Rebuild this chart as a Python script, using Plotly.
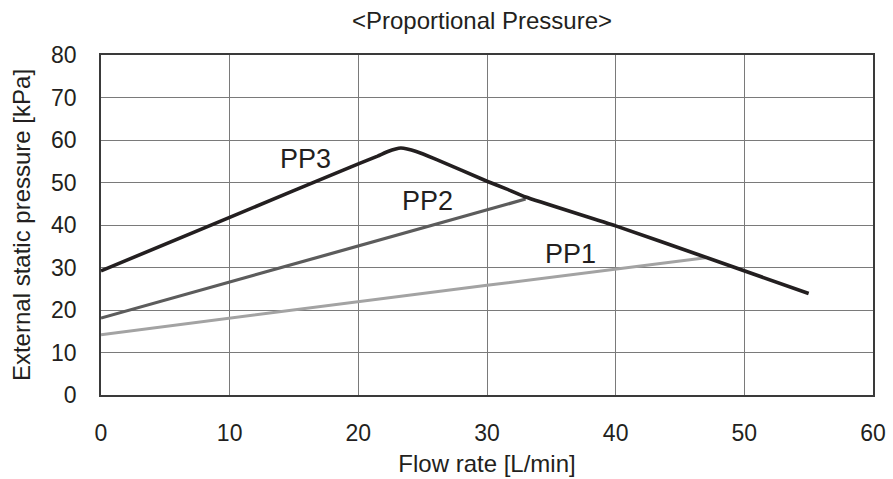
import plotly.graph_objects as go

# Proportional pressure curves: flow rate [L/min] vs external static pressure [kPa]
pp3_flow = [0, 10, 20, 21.5, 22.3, 22.9, 23.3, 23.8, 24.5, 26, 30, 31.5, 33, 40, 47, 55]
pp3_pressure = [29.2, 41.8, 54.4, 56.2, 57.3, 57.9, 58.1, 57.9, 57.3, 55.5, 50.3, 48.5, 46.6, 39.8, 32.4, 23.9]

pp2_flow = [0, 11.5, 20, 33]
pp2_pressure = [18.1, 27.9, 35.1, 46.1]

pp1_flow = [0, 11.5, 20, 30, 47]
pp1_pressure = [14.2, 18.7, 22.0, 25.8, 32.3]

curve_labels = ["PP3", "PP2", "PP1"]
label_flow = [15.9, 25.35, 36.5]
label_pressure = [55.6, 45.6, 33.2]

x_ticks = [0, 10, 20, 30, 40, 50, 60]
y_ticks = [0, 10, 20, 30, 40, 50, 60, 70, 80]

FONT = "Liberation Sans, Arial, sans-serif"

fig = go.Figure()
fig.add_trace(go.Scatter(x=pp1_flow, y=pp1_pressure, mode="lines",
                         line=dict(color="#a3a3a3", width=3), name="PP1"))
fig.add_trace(go.Scatter(x=pp2_flow, y=pp2_pressure, mode="lines",
                         line=dict(color="#5c5c5c", width=3.2), name="PP2"))
fig.add_trace(go.Scatter(x=pp3_flow, y=pp3_pressure, mode="lines",
                         line=dict(color="#231f20", width=3.6, shape="spline", smoothing=0.4),
                         name="PP3"))

for txt, lx, ly in zip(curve_labels, label_flow, label_pressure):
    fig.add_annotation(x=lx, y=ly, text=txt, showarrow=False,
                       font=dict(family=FONT, size=27, color="#231f20"),
                       xanchor="center", yanchor="middle")

fig.update_layout(
    width=893, height=479,
    margin=dict(l=101, r=20, t=55, b=84),
    paper_bgcolor="white", plot_bgcolor="white",
    showlegend=False,
    font=dict(family=FONT, size=23, color="#231f20"),
    title=dict(text="&lt;Proportional Pressure&gt;", x=482 / 893, xanchor="center",
               y=1 - 21 / 479, yanchor="middle",
               font=dict(family=FONT, size=24, color="#231f20")),
)
fig.update_xaxes(
    range=[0, 60], tickvals=x_ticks, showgrid=True, gridcolor="#7a7a7a", gridwidth=1.3,
    showline=True, linecolor="#3a3a3a", linewidth=1.5, mirror=True,
    ticks="outside", ticklen=17, tickcolor="rgba(0,0,0,0)",
    tickfont=dict(family=FONT, size=23),
    zeroline=False, automargin=False,
    title=dict(text="Flow rate [L/min]", font=dict(family=FONT, size=24), standoff=10),
)
fig.update_yaxes(
    range=[0, 80], tickvals=y_ticks, showgrid=True, gridcolor="#7a7a7a", gridwidth=1.3,
    showline=True, linecolor="#3a3a3a", linewidth=1.5, mirror=True,
    ticks="outside", ticklen=18, tickcolor="rgba(0,0,0,0)",
    tickfont=dict(family=FONT, size=23),
    zeroline=False, automargin=False,
    title=dict(text="External static pressure [kPa]", font=dict(family=FONT, size=24), standoff=14),
)

fig.write_html("out.html")
